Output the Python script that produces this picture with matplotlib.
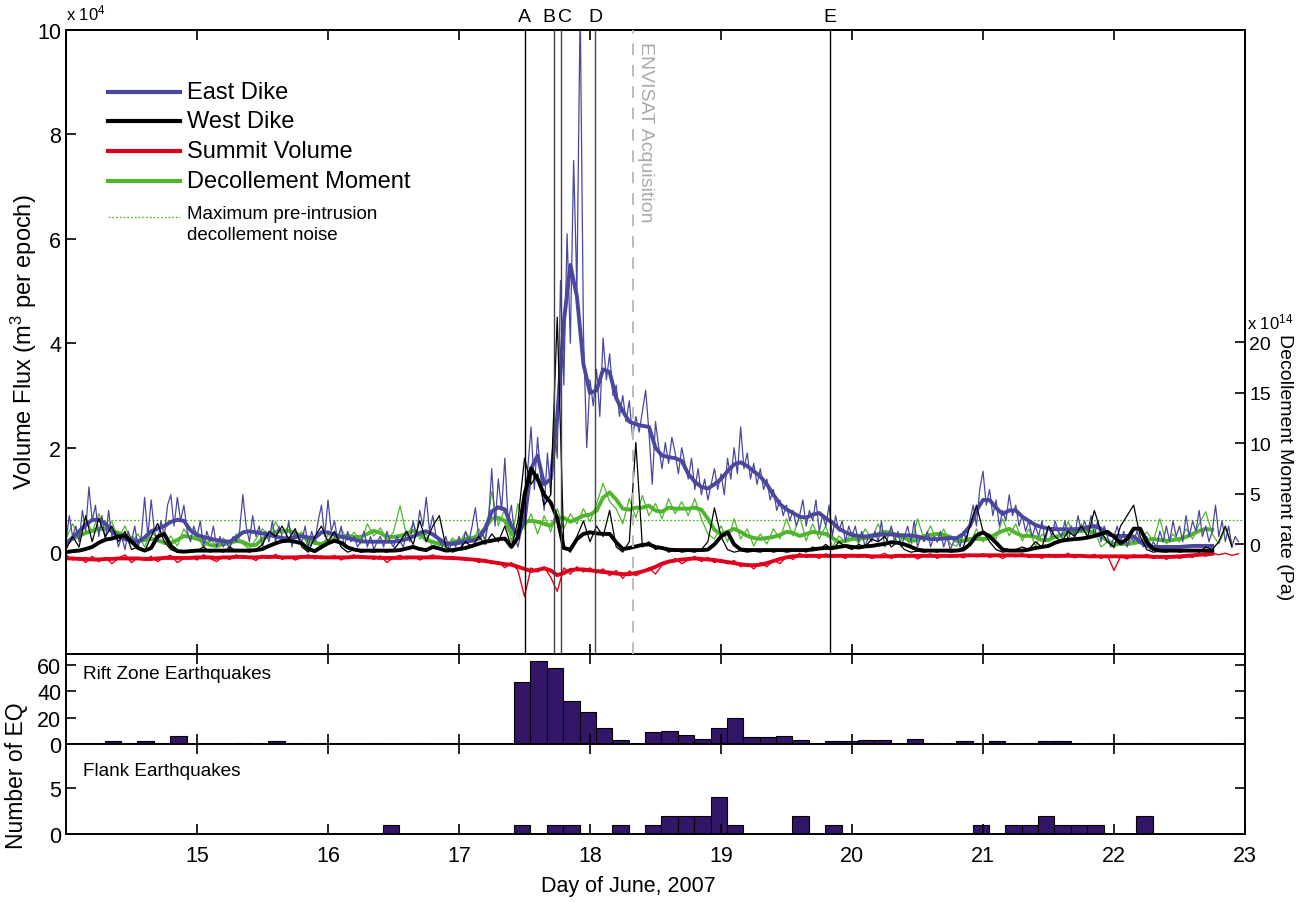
import numpy as np
import matplotlib
matplotlib.use("Agg")
import matplotlib.pyplot as plt
from matplotlib.lines import Line2D

plt.rcParams['font.family'] = ['Liberation Sans', 'DejaVu Sans']
plt.rcParams['mathtext.fontset'] = 'custom'
plt.rcParams['mathtext.rm'] = 'Liberation Sans'
plt.rcParams['mathtext.it'] = 'Liberation Sans'

# ---- data ----
# smoothed series, one value every 0.05 day starting at day 14.0
east_smooth = [
    0.15, 0.28, 0.40, 0.52, 0.62, 0.62, 0.55, 0.40, 0.30, 0.25,
    0.22, 0.20, 0.28, 0.40, 0.45, 0.50, 0.58, 0.62, 0.60, 0.42,
    0.33, 0.29, 0.26, 0.23, 0.21, 0.20, 0.28, 0.38, 0.40, 0.38,
    0.36, 0.33, 0.30, 0.27, 0.26, 0.29, 0.31, 0.28, 0.27, 0.38,
    0.38, 0.33, 0.30, 0.27, 0.24, 0.21, 0.20, 0.20, 0.20, 0.20,
    0.20, 0.22, 0.25, 0.30, 0.37, 0.40, 0.34, 0.25, 0.16, 0.16,
    0.18, 0.20, 0.22, 0.26, 0.45, 0.78, 0.86, 0.82, 0.50, 0.32,
    0.60, 1.60, 1.85, 1.30, 1.40, 2.60, 4.40, 5.50, 4.90, 3.60,
    3.05, 3.10, 3.50, 3.45, 2.95, 2.70, 2.50, 2.45, 2.42, 2.40,
    2.00, 1.85, 1.82, 1.80, 1.75, 1.50, 1.35, 1.25, 1.22, 1.30,
    1.40, 1.55, 1.68, 1.72, 1.65, 1.55, 1.45, 1.30, 1.10, 0.92,
    0.82, 0.75, 0.68, 0.66, 0.72, 0.75, 0.65, 0.57, 0.45, 0.38,
    0.33, 0.31, 0.30, 0.32, 0.33, 0.34, 0.34, 0.33, 0.32, 0.32,
    0.30, 0.27, 0.25, 0.25, 0.26, 0.27, 0.27, 0.35, 0.50, 0.80,
    1.00, 1.00, 0.85, 0.73, 0.80, 0.80, 0.68, 0.60, 0.52, 0.48,
    0.45, 0.44, 0.44, 0.44, 0.44, 0.45, 0.48, 0.50, 0.45, 0.35,
    0.31, 0.31, 0.31, 0.30, 0.20, 0.12, 0.10, 0.10, 0.10, 0.10,
    0.10, 0.11, 0.12, 0.12, 0.12, 0.12,
]
west_smooth = [
    0.00, 0.02, 0.03, 0.06, 0.10, 0.18, 0.24, 0.26, 0.30, 0.32,
    0.20, 0.08, 0.03, 0.08, 0.30, 0.35, 0.12, 0.02, 0.01, 0.02,
    0.03, 0.03, 0.03, 0.03, 0.03, 0.03, 0.03, 0.03, 0.03, 0.04,
    0.06, 0.12, 0.17, 0.21, 0.22, 0.20, 0.17, 0.06, 0.02, 0.10,
    0.17, 0.22, 0.18, 0.09, 0.05, 0.03, 0.03, 0.03, 0.03, 0.03,
    0.03, 0.04, 0.07, 0.10, 0.06, 0.04, 0.10, 0.07, 0.03, 0.04,
    0.06, 0.08, 0.12, 0.16, 0.20, 0.22, 0.25, 0.26, 0.10, 0.28,
    1.10, 1.60, 1.40, 1.10, 0.95, 0.65, 0.08, 0.05, 0.25, 0.35,
    0.38, 0.36, 0.35, 0.35, 0.19, 0.06, 0.08, 0.11, 0.14, 0.15,
    0.10, 0.08, 0.05, 0.04, 0.04, 0.04, 0.04, 0.04, 0.05, 0.15,
    0.30, 0.38, 0.15, 0.05, 0.04, 0.04, 0.04, 0.04, 0.04, 0.04,
    0.04, 0.04, 0.04, 0.04, 0.05, 0.07, 0.08, 0.08, 0.10, 0.12,
    0.10, 0.09, 0.11, 0.12, 0.14, 0.16, 0.19, 0.18, 0.15, 0.10,
    0.05, 0.03, 0.03, 0.03, 0.03, 0.03, 0.03, 0.05, 0.15, 0.32,
    0.38, 0.30, 0.18, 0.05, 0.03, 0.03, 0.03, 0.05, 0.08, 0.10,
    0.12, 0.18, 0.22, 0.24, 0.25, 0.26, 0.28, 0.31, 0.35, 0.39,
    0.30, 0.17, 0.25, 0.45, 0.45, 0.20, 0.06, 0.03, 0.03, 0.03,
    0.03, 0.03, 0.03, 0.03, 0.03, 0.03,
]
summit_smooth = [
    -0.12, -0.12, -0.13, -0.13, -0.14, -0.14, -0.13, -0.13, -0.12, -0.12,
    -0.12, -0.12, -0.13, -0.13, -0.12, -0.11, -0.11, -0.11, -0.11, -0.11,
    -0.10, -0.10, -0.10, -0.11, -0.10, -0.10, -0.09, -0.09, -0.10, -0.10,
    -0.09, -0.09, -0.09, -0.10, -0.10, -0.10, -0.09, -0.09, -0.09, -0.10,
    -0.10, -0.10, -0.10, -0.10, -0.09, -0.09, -0.10, -0.10, -0.11, -0.11,
    -0.11, -0.11, -0.10, -0.10, -0.10, -0.10, -0.10, -0.10, -0.11, -0.11,
    -0.12, -0.13, -0.14, -0.15, -0.17, -0.19, -0.21, -0.23, -0.24, -0.28,
    -0.32, -0.36, -0.34, -0.31, -0.35, -0.44, -0.40, -0.34, -0.33, -0.33,
    -0.35, -0.36, -0.38, -0.39, -0.41, -0.42, -0.42, -0.40, -0.37, -0.33,
    -0.28, -0.22, -0.18, -0.16, -0.14, -0.13, -0.12, -0.13, -0.14, -0.15,
    -0.17, -0.19, -0.21, -0.23, -0.25, -0.25, -0.24, -0.21, -0.17, -0.13,
    -0.10, -0.08, -0.07, -0.07, -0.07, -0.07, -0.07, -0.07, -0.07, -0.07,
    -0.07, -0.07, -0.07, -0.08, -0.08, -0.08, -0.08, -0.07, -0.07, -0.07,
    -0.07, -0.07, -0.07, -0.07, -0.07, -0.07, -0.07, -0.06, -0.06, -0.06,
    -0.06, -0.06, -0.06, -0.06, -0.06, -0.06, -0.06, -0.07, -0.07, -0.07,
    -0.07, -0.07, -0.07, -0.07, -0.07, -0.07, -0.08, -0.08, -0.08, -0.08,
    -0.08, -0.08, -0.08, -0.08, -0.08, -0.08, -0.09, -0.09, -0.09, -0.09,
    -0.08, -0.07, -0.06, -0.05, -0.04, -0.03,
]
# decollement moment rate, x 1e14 (right axis)
decol_smooth = [
    0.2, 0.5, 0.8, 1.1, 1.3, 1.5, 1.5, 1.3, 1.1, 0.8,
    0.6, 0.3, 0.4, 0.5, 0.4, 0.1, 0.1, 0.4, 0.8, 0.7,
    0.5, 0.3, -0.1, -0.2, 0.0, 0.1, 0.3, 0.2, -0.1, -0.1,
    0.5, 0.9, 1.2, 1.3, 1.3, 1.1, 0.8, 0.4, 0.1, 0.0,
    0.3, 0.5, 0.7, 0.8, 0.7, 0.7, 1.0, 1.3, 1.1, 0.7,
    0.7, 0.8, 1.0, 1.3, 1.0, 0.4, 0.2, 0.0, 0.0, 0.2,
    0.3, 0.5, 0.6, 0.8, 1.6, 2.5, 2.6, 2.3, 1.0, 1.2,
    2.2, 2.3, 2.2, 2.0, 1.8, 2.6, 2.6, 2.2, 2.5, 2.8,
    2.9, 3.3, 4.6, 5.1, 4.4, 3.5, 3.4, 3.6, 3.6, 3.8,
    3.3, 3.2, 3.6, 3.5, 3.5, 3.5, 3.6, 3.4, 2.5, 1.4,
    1.0, 1.2, 1.5, 1.2, 0.8, 0.6, 0.5, 0.6, 0.7, 0.9,
    1.2, 1.1, 0.8, 1.0, 1.2, 1.1, 1.0, 0.6, 0.2, 0.3,
    0.5, 0.5, 0.6, 0.7, 1.0, 1.2, 1.1, 0.8, 0.6, 0.3,
    0.4, 0.8, 0.9, 1.0, 0.9, 0.7, 0.3, 0.3, 0.5, 0.5,
    0.5, 0.6, 1.0, 1.3, 1.5, 1.1, 0.8, 0.8, 0.7, 0.4,
    0.4, 0.7, 0.9, 1.1, 1.2, 1.3, 1.3, 1.1, 0.8, 0.3,
    0.0, 0.0, 0.0, 0.1, 0.2, 0.4, 0.5, 0.4, 0.3, 0.4,
    0.5, 0.7, 1.0, 1.3, 1.5, 1.4,
]

# raw east dike flux, one value every 0.025 day from day 14.0
east_raw = [
    0.2, 0.7, 0.3, 0.5, 0.2, 0.8, 0.4, 1.25,
    0.6, 0.9, 0.3, 0.7, 0.2, 0.8, 0.3, 0.4,
    0.1, 0.3, 0.05, 0.4, 0.2, 0.5, 0.1, 0.3,
    1.05, 0.3, 1.0, 0.4, 0.2, 0.6, 0.3, 0.9,
    1.1, 0.5, 1.05, 0.6, 0.9, 0.4, 0.2, 0.5,
    0.3, 0.6, 0.1, 0.4, 0.2, 0.5, 0.1, 0.3,
    0.1, 0.2, 0.05, 0.3, 0.2, 0.4, 1.1, 0.5,
    0.2, 0.7, 0.3, 0.5, 0.1, 0.4, 0.2, 0.6,
    0.2, 0.5, 0.3, 0.2, 0.6, 0.1, 0.4, 0.3,
    0.2, 0.5, 0.1, 0.4, 0.2, 0.6, 0.9, 0.3,
    1.0, 0.4, 0.6, 0.2, 0.5, 0.1, 0.4, 0.2,
    0.3, 0.1, 0.2, 0.4, 0.1, 0.3, 0.05, 0.2,
    0.3, 0.1, 0.4, 0.2, 0.1, 0.3, 0.2, 0.1,
    0.4, 0.2, 0.6, 0.3, 0.8, 0.5, 1.05, 0.4,
    0.7, 0.3, 0.2, 0.1, 0.3, 0.05, 0.2, 0.1,
    0.3, 0.1, 0.4, 0.2, 0.5, 0.85, 0.3, 0.4,
    0.2, 0.6, 1.6, 0.5, 1.4, 0.8, 1.8, 0.6,
    0.9, 0.3, 0.1, 0.4, 0.6, 1.6, 2.4, 1.2,
    2.2, 1.4, 0.8, 1.9, 1.1, 2.5, 1.8, 5.2,
    3.2, 6.1, 4.0, 7.5, 5.0, 10.5, 4.2, 2.0,
    3.3, 2.8, 3.5, 2.6, 4.1, 3.3, 3.8, 3.0,
    3.2, 2.6, 3.0, 2.5, 2.9, 2.2, 2.6, 2.3,
    2.7, 3.1, 2.3, 1.3, 2.5, 2.0, 1.6, 2.1,
    1.7, 2.2, 1.9, 1.5, 2.0, 1.7, 1.4, 1.8,
    1.2, 1.6, 1.1, 1.4, 1.0, 1.3, 1.6, 1.2,
    1.5, 1.1, 1.8, 1.4, 2.0, 1.5, 2.4, 1.6,
    1.9, 1.4, 1.7, 1.3, 1.6, 1.2, 1.4, 1.0,
    1.2, 0.8, 1.0, 0.7, 0.9, 0.6, 0.8, 0.5,
    0.7, 1.0, 0.5, 0.8, 0.6, 1.0, 0.4, 0.7,
    0.5, 0.9, 0.3, 0.7, 0.4, 0.6, 0.2, 0.5,
    0.3, 0.5, 0.2, 0.4, 0.1, 0.3, 0.2, 0.4,
    0.2, 0.6, 0.1, 0.3, 0.5, 0.2, 0.4, 0.1,
    0.3, 0.5, 0.2, 0.6, 0.1, 0.3, 0.2, 0.4,
    0.1, 0.3, 0.2, 0.4, 0.1, 0.3, 0.05, 0.2,
    0.3, 0.1, 0.4, 0.2, 0.6, 0.9, 0.5, 1.2,
    1.55, 0.9, 1.2, 0.7, 1.0, 0.5, 0.8, 0.6,
    1.1, 0.7, 0.9, 0.5, 0.7, 0.4, 0.6, 0.3,
    0.5, 0.3, 0.6, 0.2, 0.5, 0.3, 0.6, 0.4,
    0.3, 0.6, 0.2, 0.5, 0.3, 0.7, 0.4, 0.6,
    0.4, 0.7, 0.3, 0.6, 0.2, 0.5, 0.3, 0.1,
    0.3, 0.5, 0.2, 0.4, 0.1, 0.3, 0.2, 0.4,
    0.2, 0.1, 0.3, 0.05, 0.2, 0.1, 0.4, 0.2,
    0.5, 0.2, 0.6, 0.3, 0.5, 0.2, 0.7, 0.3,
    0.6, 0.4, 0.8, 0.3, 0.5, 0.2, 0.4, 0.9,
    0.3, 0.6, 0.2, 0.5, 0.1, 0.3, 0.2,
]
# raw series, one value every 0.05 day from day 14.0
west_raw = [
    0.05, 0.3, 0.1, 0.7, 0.2, 0.65, 0.3, 0.5, 0.2, 0.4, 0.05, 0.1,
    0.02, 0.3, 0.55, 0.2, 0.05, 0.0, 0.02, 0.0, 0.03, 0.1, 0.0, 0.05,
    0.0, 0.1, 0.02, 0.05, 0.0, 0.05, 0.15, 0.4, 0.3, 0.5, 0.25, 0.45,
    0.1, 0.0, 0.3, 0.5, 0.2, 0.4, 0.1, 0.0, 0.05, 0.0, 0.02, 0.0,
    0.03, 0.0, 0.05, 0.2, 0.4, 0.15, 0.6, 0.2, 0.5, 0.7, 0.1, 0.0,
    0.05, 0.2, 0.1, 0.3, 0.15, 0.35, 0.2, 0.5, 0.1, 0.6, 1.8, 1.3,
    1.5, 0.9, 1.1, 4.5, 0.1, 0.0, 0.3, 0.6, 0.2, 0.5, 0.3, 0.8,
    0.1, 0.0, 0.2, 2.1, 0.1, 0.2, 0.05, 0.1, 0.0, 0.05, 0.0, 0.02,
    0.0, 0.05, 0.2, 0.85, 0.3, 0.05, 0.0, 0.03, 0.0, 0.02, 0.0, 0.05,
    0.0, 0.03, 0.0, 0.02, 0.05, 0.0, 0.1, 0.05, 0.15, 0.05, 0.2, 0.1,
    0.05, 0.15, 0.1, 0.25, 0.2, 0.3, 0.1, 0.2, 0.05, 0.0, 0.02, 0.0,
    0.03, 0.0, 0.05, 0.0, 0.02, 0.1, 0.5, 0.9, 0.4, 0.2, 0.05, 0.0,
    0.02, 0.05, 0.1, 0.05, 0.2, 0.1, 0.5, 0.3, 0.2, 0.4, 0.3, 0.5,
    0.3, 0.8, 0.4, 0.2, 0.1, 0.5, 0.7, 0.9, 0.3, 0.05, 0.0, 0.02,
    0.0, 0.05, 0.0, 0.02, 0.05, 0.0, 0.1, 0.05, 0.2, 0.5, 0.1,
]
decol_raw = [
    0.5, 2.0, 0.8, 2.5, 1.2, 3.0, 1.5, 2.2, 0.6, 1.8, 0.2, 1.0,
    -0.3, 1.2, 0.5, 0.0, 0.8, -0.2, 1.5, 0.5, 1.0, -0.4, 0.5, -0.3,
    0.6, -0.2, 1.0, 0.0, -0.5, 0.5, 1.5, 0.8, 2.2, 1.0, 1.8, 0.5,
    1.2, -0.3, 0.5, -0.5, 1.0, 0.2, 1.5, 0.4, 1.2, 0.0, 2.0, 0.8,
    1.6, 0.3, 1.2, 3.8, 0.8, 2.0, 0.5, 1.0, -0.3, 0.5, -0.4, 0.6,
    0.0, 1.2, 0.2, 1.5, 0.5, 5.2, 1.8, 3.5, 0.2, 4.0, 1.5, 3.0,
    1.0, 2.8, 1.2, 3.5, 1.5, 3.0, 2.0, 3.5, 2.2, 4.0, 6.0, 4.2,
    3.5, 2.0, 4.5, 2.6, 4.8, 2.8, 4.0, 2.5, 4.5, 3.0, 4.2, 2.8,
    4.5, 2.5, 1.0, 0.5, 1.8, 0.2, 2.5, 0.5, 1.5, -0.2, 1.0, 0.0,
    1.5, 0.5, 2.5, 0.8, 2.8, 0.3, 2.0, 0.5, 1.8, -0.3, 0.8, 0.2,
    1.2, 0.0, 1.5, 0.5, 2.0, 0.6, 1.5, 0.0, 0.8, -0.2, 2.5, 0.5,
    1.8, 0.2, 1.5, 0.0, -0.2, 1.2, 0.0, 1.5, 0.2, 1.0, 0.5, 2.5,
    0.8, 2.0, 0.3, 1.5, -0.2, 1.0, 0.2, 1.8, 0.5, 2.2, 0.8, 2.0,
    0.6, 1.5, -0.3, 0.2, -0.4, 0.5, -0.2, 0.8, 0.0, 1.2, 0.3, 2.5,
    0.0, 1.0, 0.2, 1.5, 0.5, 2.0, 3.2, 1.0, 0.0, 1.5, 0.2,
]
summit_raw = [
    -0.05, -0.15, -0.1, -0.2, -0.08, -0.18, -0.1, -0.22, -0.12, -0.05, -0.2, -0.1,
    -0.15, -0.08, -0.18, -0.1, -0.06, -0.2, -0.12, -0.08, -0.15, -0.05, -0.12, -0.18,
    -0.08, -0.14, -0.05, -0.12, -0.1, -0.16, -0.06, -0.12, -0.04, -0.14, -0.08, -0.15,
    -0.1, -0.05, -0.13, -0.07, -0.12, -0.06, -0.15, -0.09, -0.05, -0.12, -0.08, -0.14,
    -0.07, -0.2, -0.1, -0.06, -0.13, -0.08, -0.15, -0.1, -0.05, -0.12, -0.08, -0.14,
    -0.1, -0.16, -0.12, -0.2, -0.14, -0.22, -0.18, -0.3, -0.2, -0.35, -0.85, -0.3,
    -0.38, -0.28, -0.48, -0.75, -0.3, -0.42, -0.28, -0.38, -0.3, -0.4, -0.32, -0.45,
    -0.35, -0.5, -0.36, -0.45, -0.38, -0.3, -0.42, -0.25, -0.2, -0.12, -0.22, -0.15,
    -0.08, -0.18, -0.1, -0.2, -0.14, -0.22, -0.16, -0.28, -0.22, -0.32, -0.2, -0.28,
    -0.15, -0.22, -0.08, -0.14, -0.02, -0.1, -0.05, -0.12, -0.03, -0.1, -0.06, -0.12,
    -0.04, -0.1, -0.05, -0.12, -0.08, -0.02, -0.12, -0.06, -0.1, -0.04, -0.13, -0.07,
    -0.03, -0.12, -0.06, -0.1, -0.05, -0.11, -0.04, -0.09, -0.03, -0.1, -0.06, -0.12,
    -0.05, -0.09, -0.03, -0.1, -0.06, -0.12, -0.04, -0.1, -0.08, -0.02, -0.11, -0.05,
    -0.1, -0.04, -0.12, -0.06, -0.35, -0.08, -0.13, -0.05, -0.1, -0.04, -0.12, -0.07,
    -0.14, -0.06, -0.12, -0.08, -0.1, -0.03, -0.08, -0.02, -0.05, -0.02, -0.06, -0.03,
]

# event markers (day of June)
event_names = ['A', 'B', 'C', 'D', 'E']
event_days = [17.50, 17.725, 17.776, 18.04, 19.832]
label_shift = [0.0, -0.04, 0.035, 0.0, 0.0]
envisat_day = 18.33
noise_level = 2.4  # x 1e14

# earthquake counts in 3-hour bins, first bin starting at day 14.045
bin_start = 14.045
bin_width = 0.125
rift_counts = [
    0, 0, 2, 1, 2, 1, 6, 0, 0, 0, 1, 0, 2, 1, 0, 1, 0, 0, 1, 0,
    1, 1, 0, 0, 0, 0, 0, 47, 63, 58, 33, 24, 12, 3, 0, 9, 10, 7, 4, 12,
    20, 5, 5, 6, 3, 0, 2, 2, 3, 3, 0, 4, 1, 0, 2, 1, 2, 0, 1, 2,
    2, 0, 1, 1, 1, 1, 0, 0, 0, 1, 0, 0,
]
flank_counts = [
    0, 0, 0, 0, 0, 0, 0, 0, 0, 0, 0, 0, 0, 0, 0, 0, 0, 0, 0, 1,
    0, 0, 0, 0, 0, 0, 0, 1, 0, 1, 1, 0, 0, 1, 0, 1, 2, 2, 2, 4,
    1, 0, 0, 0, 2, 0, 1, 0, 0, 0, 0, 0, 0, 0, 0, 1, 0, 1, 1, 2,
    1, 1, 1, 0, 0, 2, 0, 0, 0, 0, 0, 0,
]

c_east = '#4a479e'
c_west = 'black'
c_summit = '#e0001b'
c_decol = '#4fb52e'
c_bar = '#331668'

t_smooth = 14.0 + 0.05 * np.arange(len(east_smooth))
t_raw25 = 14.0 + 0.025 * np.arange(len(east_raw))
t_west = 14.0 + 0.05 * np.arange(len(west_raw))
t_decol = 14.0 + 0.05 * np.arange(len(decol_raw))
t_summit = 14.0 + 0.05 * np.arange(len(summit_raw))
bins = bin_start + bin_width * np.arange(len(rift_counts))

fig = plt.figure(figsize=(13.01, 9.03), dpi=100)
W, H = 1301.0, 903.0
x0, x1 = 66, 1245
ax = fig.add_axes([x0 / W, 1 - 655 / H, (x1 - x0) / W, 624 / H])
ax_m = fig.add_axes([x0 / W, 1 - 745 / H, (x1 - x0) / W, 90 / H])
ax_b = fig.add_axes([x0 / W, 1 - 835 / H, (x1 - x0) / W, 90 / H])
ax2 = ax.twinx()
ax.set_zorder(ax2.get_zorder() + 1)
ax.patch.set_visible(False)

fs = 15.5
for a in (ax, ax2, ax_m, ax_b):
    for s in a.spines.values():
        s.set_linewidth(1.4)
    a.tick_params(direction='in', length=7, width=1.2, labelsize=fs,
                  top=True, bottom=True)
    a.set_xlim(14, 23)
    a.set_xticks(range(15, 24))

# ---- top panel ----
ax2.plot(t_decol, decol_raw, color=c_decol, lw=0.9)
ax2.plot(t_smooth, decol_smooth, color=c_decol, lw=2.8)
ax2.axhline(noise_level, color=c_decol, lw=0.9, ls=(0, (1.5, 1.5)))
ax2.set_ylim(-10.89, 50.89)
ax2.set_yticks([0, 5, 10, 15, 20])
ax2.tick_params(axis='y', right=True, left=False, labelright=True, pad=3,
                labelsize=14)
ax2.tick_params(axis='x', labelbottom=False)

ax.plot(t_raw25, east_raw, color=c_east, lw=0.9)
ax.plot(t_smooth, east_smooth, color=c_east, lw=2.8)
ax.plot(t_summit, summit_raw, color=c_summit, lw=1.0)
ax.plot(t_smooth, summit_smooth, color=c_summit, lw=2.8)
ax.plot(t_west, west_raw, color=c_west, lw=0.9)
ax.plot(t_smooth, west_smooth, color=c_west, lw=2.8)

ax.set_ylim(-1.95, 10)
ax.set_yticks([0, 2, 4, 6, 8, 10])
ax.tick_params(axis='y', left=True, right=False)
ax.tick_params(axis='x', labelbottom=False)

for name, d, sh in zip(event_names, event_days, label_shift):
    col = 'black' if name in ('A', 'E') else '#444444'
    ax.axvline(d, color=col, lw=1.0, zorder=5)
    ax.text(d + sh, 1.021, name, transform=ax.get_xaxis_transform(),
            ha='center', va='center', fontsize=14)
ax.axvline(envisat_day, color='#bbbbbb', lw=1.4, ls=(0, (6, 5)), zorder=5)
ax.text(envisat_day + 0.09, 9.78, 'ENVISAT Acquisition', rotation=-90,
        color='#aaaaaa', fontsize=14, ha='center', va='top')

ax.text(0.0, 1.012, r'x 10$^{4}$', transform=ax.transAxes, fontsize=12,
        ha='left', va='bottom')
fig.text(1247 / W, 1 - 322 / H, r'x 10$^{14}$', fontsize=12, ha='left', va='center')
fig.text(24 / W, 1 - 342 / H, r'Volume Flux (m$^{3}$ per epoch)', rotation=90,
         fontsize=17, ha='center', va='center')
fig.text(1285 / W, 1 - 467 / H, 'Decollement Moment rate (Pa)', rotation=-90,
         fontsize=14, ha='center', va='center')

# legend drawn by hand
leg = [('East Dike', c_east), ('West Dike', c_west),
       ('Summit Volume', c_summit), ('Decollement Moment', c_decol)]
lx0, lx1, tx = (108 - x0) / 1179, (180 - x0) / 1179, (187 - x0) / 1179
for i, (lab, col) in enumerate(leg):
    yy = 1 - ([93, 122, 152, 182][i] - 31) / 624
    ax.add_line(Line2D([lx0, lx1], [yy, yy], color=col, lw=3,
                       transform=ax.transAxes))
    ax.text(tx, yy, lab, transform=ax.transAxes, fontsize=17, va='center')
yy = 1 - (218 - 31) / 624
ax.add_line(Line2D([lx0, lx1], [yy, yy], color=c_decol, lw=0.9, ls=(0, (1.5, 1.5)),
                   transform=ax.transAxes))
ax.text(tx, yy + 0.019, 'Maximum pre-intrusion\ndecollement noise',
        transform=ax.transAxes, fontsize=13.5, va='top', linespacing=1.3)

# ---- earthquake panels ----
ax_m.bar(bins, rift_counts, width=bin_width, align='edge', color=c_bar,
         edgecolor='black', lw=0.8)
ax_m.set_ylim(0, 68.4)
ax_m.set_yticks([0, 20, 40, 60])
ax_m.tick_params(axis='y', left=True, right=True)
ax_m.tick_params(axis='x', labelbottom=False)
ax_m.text(0.014, 0.78, 'Rift Zone Earthquakes', transform=ax_m.transAxes,
          fontsize=13.7, va='center')

ax_b.bar(bins, flank_counts, width=bin_width, align='edge', color=c_bar,
         edgecolor='black', lw=0.8)
ax_b.set_ylim(0, 9.8)
ax_b.set_yticks([0, 5])
ax_b.tick_params(axis='y', left=True, right=True)
ax_b.tick_params(axis='x', pad=8)
ax_b.text(0.014, 0.7, 'Flank Earthquakes', transform=ax_b.transAxes,
          fontsize=13.7, va='center')

fig.text(17 / W, 1 - 776 / H, 'Number of EQ', rotation=90, fontsize=16.5,
         ha='center', va='center')
fig.text(628 / W, 1 - 887 / H, 'Day of June, 2007', fontsize=15.5,
         ha='center', va='center')

fig.savefig('out.png', dpi=100)
